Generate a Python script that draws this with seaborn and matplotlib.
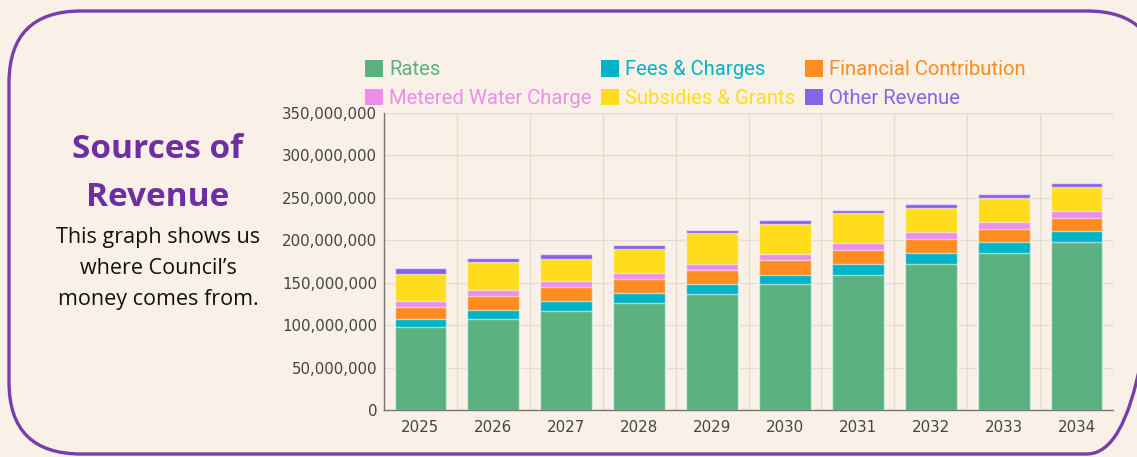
import matplotlib
matplotlib.use("Agg")
import matplotlib.pyplot as plt
from matplotlib.patches import FancyBboxPatch, Patch
from matplotlib.ticker import FuncFormatter, MultipleLocator, FixedLocator
import seaborn as sns
import pandas as pd
import numpy as np

# Revenue by source, in millions of dollars
years = ["2025", "2026", "2027", "2028", "2029", "2030", "2031", "2032", "2033", "2034"]
rates = [98.2, 107.6, 116.7, 126.1, 136.7, 148.5, 159.4, 172.0, 184.7, 198.0]
fees_charges = [9.0, 10.6, 11.4, 11.8, 12.1, 10.9, 13.0, 13.0, 13.3, 12.6]
financial_contribution = [14.2, 16.5, 16.5, 16.5, 16.2, 17.7, 16.5, 16.5, 15.6, 16.0]
metered_water = [7.0, 7.1, 7.1, 7.0, 7.4, 7.1, 7.9, 8.3, 8.3, 7.9]
subsidies_grants = [31.9, 32.3, 26.6, 28.7, 36.2, 34.6, 35.0, 28.2, 28.3, 28.6]
other_revenue = [7.4, 5.4, 5.2, 4.7, 3.5, 4.7, 4.3, 4.4, 4.0, 4.0]

series_names = ["Rates", "Fees & Charges", "Financial Contribution",
                "Metered Water Charge", "Subsidies & Grants", "Other Revenue"]
series_values = [rates, fees_charges, financial_contribution,
                 metered_water, subsidies_grants, other_revenue]
series_colors = ["#5BB17F", "#00B3C7", "#FF8C20", "#EB8FEA", "#FFDD1C", "#8863E6"]

BG = "#F9F0E7"
PURPLE = "#7A3DAA"

sns.set_theme(style="white")
plt.rcParams["font.family"] = ["Open Sans", "DejaVu Sans"]

fig = plt.figure(figsize=(11.37, 4.57), dpi=100)
fig.patch.set_facecolor(BG)

# Pixel-space background layer for the rounded frame and side text
bg = fig.add_axes([0, 0, 1, 1], zorder=-5)
bg.set_xlim(0, 1137)
bg.set_ylim(457, 0)
bg.axis("off")
bg.set_facecolor(BG)
bg.add_patch(FancyBboxPatch((9, 11), 1150, 443,
                            boxstyle="round,pad=0,rounding_size=72",
                            facecolor="none", edgecolor=PURPLE, linewidth=2.4))

bg.text(158, 149, "Sources of", ha="center", va="center", fontsize=24,
        fontweight="bold", color="#6E2FA3", family=["Open Sans", "DejaVu Sans"])
bg.text(158, 198, "Revenue", ha="center", va="center", fontsize=24,
        fontweight="bold", color="#6E2FA3", family=["Open Sans", "DejaVu Sans"])
for txt, y in [("This graph shows us", 238), ("where Council\u2019s", 269),
               ("money comes from.", 299)]:
    bg.text(158, y, txt, ha="center", va="center", fontsize=15.5,
            color="#111111", family=["Open Sans", "DejaVu Sans"])

# Stacked bar chart
ax = fig.add_axes([384 / 1137, 1 - 410 / 457, (1113 - 384) / 1137, (410 - 113) / 457])
ax.set_facecolor(BG)

df = pd.DataFrame({"year": years})
cum = np.zeros(len(years))
cum_cols = []
for name, vals in zip(series_names, series_values):
    cum = cum + np.array(vals) * 1e6
    df[name] = cum
    cum_cols.append(name)

# draw from the tallest cumulative layer down so each lower layer sits on top
for name, color in zip(reversed(cum_cols), reversed(series_colors)):
    sns.barplot(data=df, x="year", y=name, color=color, saturation=1,
                errorbar=None, width=0.71, edgecolor=(1, 1, 1, 0.55),
                linewidth=1.0, ax=ax)

ax.set_xlim(-0.5, len(years) - 0.5)
ax.set_ylim(0, 350e6)
ax.yaxis.set_major_locator(MultipleLocator(50e6))
ax.yaxis.set_major_formatter(FuncFormatter(lambda v, p: f"{int(round(v)):,}"))
ax.xaxis.set_minor_locator(FixedLocator(np.arange(-0.5, len(years), 1.0)))
ax.set_xlabel("")
ax.set_ylabel("")

ax.set_axisbelow(True)
ax.grid(axis="y", which="major", color="#E8DCD1", linewidth=1.0)
ax.grid(axis="x", which="minor", color="#E8DCD1", linewidth=1.0)
ax.grid(axis="x", which="major", visible=False)

for s in ["top", "right"]:
    ax.spines[s].set_visible(False)
for s in ["left", "bottom"]:
    ax.spines[s].set_color("#777777")
    ax.spines[s].set_linewidth(1.0)

ax.tick_params(axis="both", which="major", length=4, width=0.8, color="#777777",
               labelcolor="#444444", labelsize=10.8, pad=1,
               labelfontfamily="DejaVu Sans")
ax.tick_params(axis="x", which="minor", length=0)
ax.tick_params(axis="x", which="major", pad=3)

# Legend above the plot, text tinted like its swatch
order = [0, 3, 1, 4, 2, 5]
handles = [Patch(facecolor=series_colors[i], edgecolor="none") for i in order]
labels = [series_names[i] for i in order]
leg = fig.legend(handles, labels, loc="upper left",
                 bbox_to_anchor=(365 / 1137, 1 - 60 / 457), ncol=3,
                 frameon=False, handlelength=0.9, handleheight=0.9,
                 handletextpad=0.3, columnspacing=0.45, labelspacing=0.45,
                 borderpad=0, borderaxespad=0,
                 prop={"family": ["Roboto", "DejaVu Sans"], "size": 14.6})
for txt, i in zip(leg.get_texts(), order):
    txt.set_color(series_colors[i])

fig.savefig("out.png", dpi=100, facecolor=BG)
